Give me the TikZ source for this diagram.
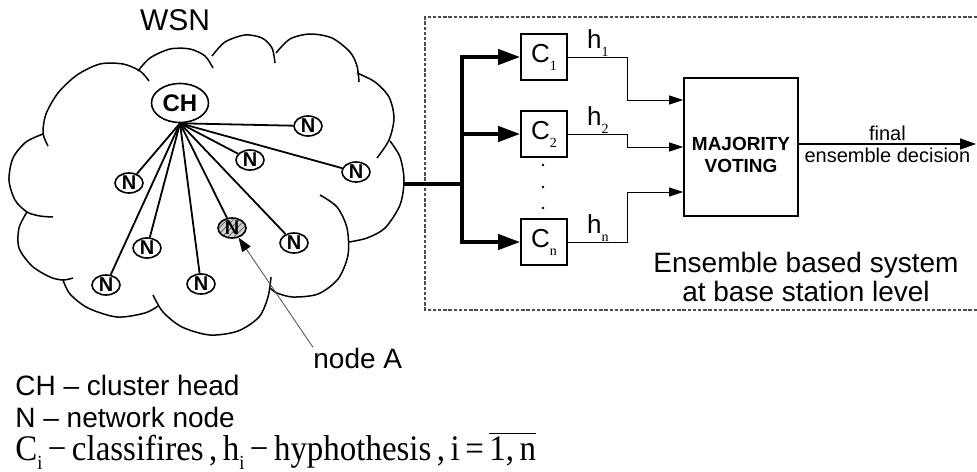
\documentclass[tikz,border=0pt]{standalone}
\usepackage{fontspec}
\setmainfont{Liberation Serif}
\setsansfont{Liberation Sans}
\usepackage{graphicx}
\usetikzlibrary{positioning,shapes,arrows.meta,patterns}

\newcommand{\lsub}[1]{\raisebox{-4pt}{\rmfamily\fontsize{7}{7}\selectfont #1}}

\begin{document}
\begin{tikzpicture}[x=0.5pt,y=-0.5pt,font=\sffamily,
  mycloud/.style = {line width=0.75pt},
  myhead/.style = {draw, ellipse, line width=0.8pt, minimum width=28.5pt, minimum height=19.5pt, inner sep=0pt, font=\sffamily\bfseries\fontsize{12}{12}\selectfont},
  mynode/.style = {draw, ellipse, line width=0.8pt, minimum width=14pt, minimum height=10pt, inner sep=0pt, fill=white, font=\sffamily\bfseries\fontsize{10}{10}\selectfont},
  mylink/.style = {line width=0.9pt},
  mybox/.style = {draw, line width=0.8pt, minimum width=23pt, minimum height=23pt, inner sep=0pt, font=\sffamily\fontsize{13}{13}\selectfont},
  mybus/.style = {line width=2pt},
  myfeed/.style = {mybus, -{Triangle[length=11pt,width=7.5pt]}},
  myvote/.style = {line width=0.5pt, -{Triangle[length=7pt,width=4.5pt]}},
  mytext/.style = {inner sep=0pt, font=\sffamily\fontsize{14}{14.5}\selectfont}]
\useasboundingbox (0,0) rectangle (977,471);

% the cloud
\draw[mycloud] plot[smooth] coordinates {(48,146) (43,133) (46,114) (58,93) (77,75) (100,64) (123,64) (140,71) (149,81)};
\draw[mycloud] plot[smooth] coordinates {(138,71) (150,58) (170,49) (190,49) (205,56) (213,68)};
\draw[mycloud] plot[smooth] coordinates {(212,56) (225,42) (245,35) (262,38) (272,48) (275,63)};
\draw[mycloud] plot[smooth] coordinates {(276,53) (290,39) (310,34) (332,38) (350,52) (357,66) (359,82)};
\draw[mycloud] plot[smooth] coordinates {(357,73) (375,82) (389,97) (394,118) (389,140) (377,158)};
\draw[mycloud] plot[smooth] coordinates {(390,141) (400,157) (404,180) (400,205) (385,228) (367,238) (349,242)};
\draw[mycloud] plot[smooth] coordinates {(320,195) (337,207) (347,228) (348,255) (338,279) (318,294) (293,297) (277,293) (270,288)};
\draw[mycloud] plot[smooth] coordinates {(271,277) (268,297) (259,317) (238,331) (210,335) (182,327) (163,312) (153,295)};
\draw[mycloud] plot[smooth] coordinates {(158,306) (145,313) (117,317) (88,308) (70,294) (63,280)};
\draw[mycloud] plot[smooth] coordinates {(27,212) (19,228) (19,248) (32,266) (50,277) (63,280) (73,278)};
\draw[mycloud] plot[smooth] coordinates {(43,134) (26,142) (13,158) (9,180) (15,200) (27,212) (40,216) (53,217)};
\node[mytext, font=\sffamily\fontsize{15}{15}\selectfont] (wsn) at (175,20) {WSN};

% cluster
\node[myhead] (ch) at (180,103) {CH};
\node[mynode] (n1) at (308,126) {N};
\node[mynode] (n2) at (250,160) {N};
\node[mynode] (n3) at (356,172) {N};
\node[mynode] (n4) at (129,183) {N};
\node[mynode, preaction={fill=gray!35}, pattern=north east lines, pattern color=gray!80!black] (na) at (232,228) {N};
\node[mynode] (n6) at (294,243) {N};
\node[mynode] (n7) at (147,248) {N};
\node[mynode] (n8) at (106,285) {N};
\node[mynode] (n9) at (201,284) {N};
\draw[mylink] (ch.south) -- (n1);
\draw[mylink] (ch.south) -- (n2);
\draw[mylink] (ch.south) -- (n3);
\draw[mylink] (ch.south) -- (n4);
\draw[mylink] (ch.south) -- (na);
\draw[mylink] (ch.south) -- (n6);
\draw[mylink] (ch.south) -- (n7);
\draw[mylink] (ch.south) -- (n8);
\draw[mylink] (ch.south) -- (n9);

\node[mytext, anchor=base west] (lbla) at (313,368) {node A};
\draw[line width=0.4pt, gray!60!black, -{Triangle[length=7pt,width=5pt,color=black]}] (lbla.north west) -- (na);

% base station
\draw[line width=0.6pt, gray!60!black, dash pattern=on 1.7pt off 0.9pt] (977,17) -- (425,17) -- (425,310) -- (977,310);
\node[mybox] (c1) at (544,57) {C\lsub{1}};
\node[mybox] (c2) at (544,134) {C\lsub{2}};
\node[mybox] (cn) at (544,242) {C\lsub{n}};
\fill (543,165) circle (0.7pt);
\fill (543,187) circle (0.7pt);
\fill (543,208) circle (0.7pt);

\coordinate (cloudout) at (404,184);
\coordinate (bus) at (462,184);
\draw[mybus] (cloudout) -- (bus);
\draw[myfeed] (bus) |- (c1);
\draw[myfeed] (bus) |- (c2);
\draw[myfeed] (bus) |- (cn);

\node[draw, line width=0.8pt, minimum width=57pt, minimum height=69pt, inner sep=0pt, align=center, font=\sffamily\bfseries\fontsize{9.5}{11}\selectfont] (mv) at (741,147) {\rule{0pt}{15pt}MAJORITY\\VOTING};
\draw[myvote] (c1.east) -- node[above, inner sep=0pt, font=\sffamily\fontsize{13}{13}\selectfont] {h\lsub{1}} ++(60,0) |- (mv.west |- 0,100);
\draw[myvote] (c2.east) -- node[above, inner sep=0pt, font=\sffamily\fontsize{13}{13}\selectfont] {h\lsub{2}} ++(60,0) |- (mv.west |- 0,147);
\draw[myvote] (cn.east) -- node[above, inner sep=0pt, font=\sffamily\fontsize{13}{13}\selectfont] {h\lsub{n}} ++(60,0) |- (mv.west |- 0,192);

\coordinate (out) at (976,144);
\draw[line width=0.8pt, -{Triangle[length=8pt,width=5.5pt]}] (mv.east |- out) -- node[above, inner sep=1.5pt, font=\sffamily\fontsize{10}{10}\selectfont] {final} node[below, inner sep=1.5pt, font=\sffamily\fontsize{10}{10}\selectfont] {ensemble decision} (out);
\node[mytext, align=center] (ens) at (806,277) {Ensemble based system\\at base station level};

% legend
\node[mytext, anchor=base west] (lg1) at (15,395) {CH – cluster head};
\node[mytext, anchor=base west] (lg2) at (15,427) {N – network node};
\node[anchor=base west, inner sep=0pt, font=\rmfamily\fontsize{18}{18}\selectfont] (lg3) at (15,460) {\scalebox{0.915}[1]{C\raisebox{-4.5pt}{\fontsize{10}{10}\selectfont i}\,−\,classifires\,,\,h\raisebox{-4.5pt}{\fontsize{10}{10}\selectfont i}\,−\,hyphothesis\,,\,i\,=\,$\smash{\overline{\mbox{1,\,n}}}$}};
\end{tikzpicture}
\end{document}
